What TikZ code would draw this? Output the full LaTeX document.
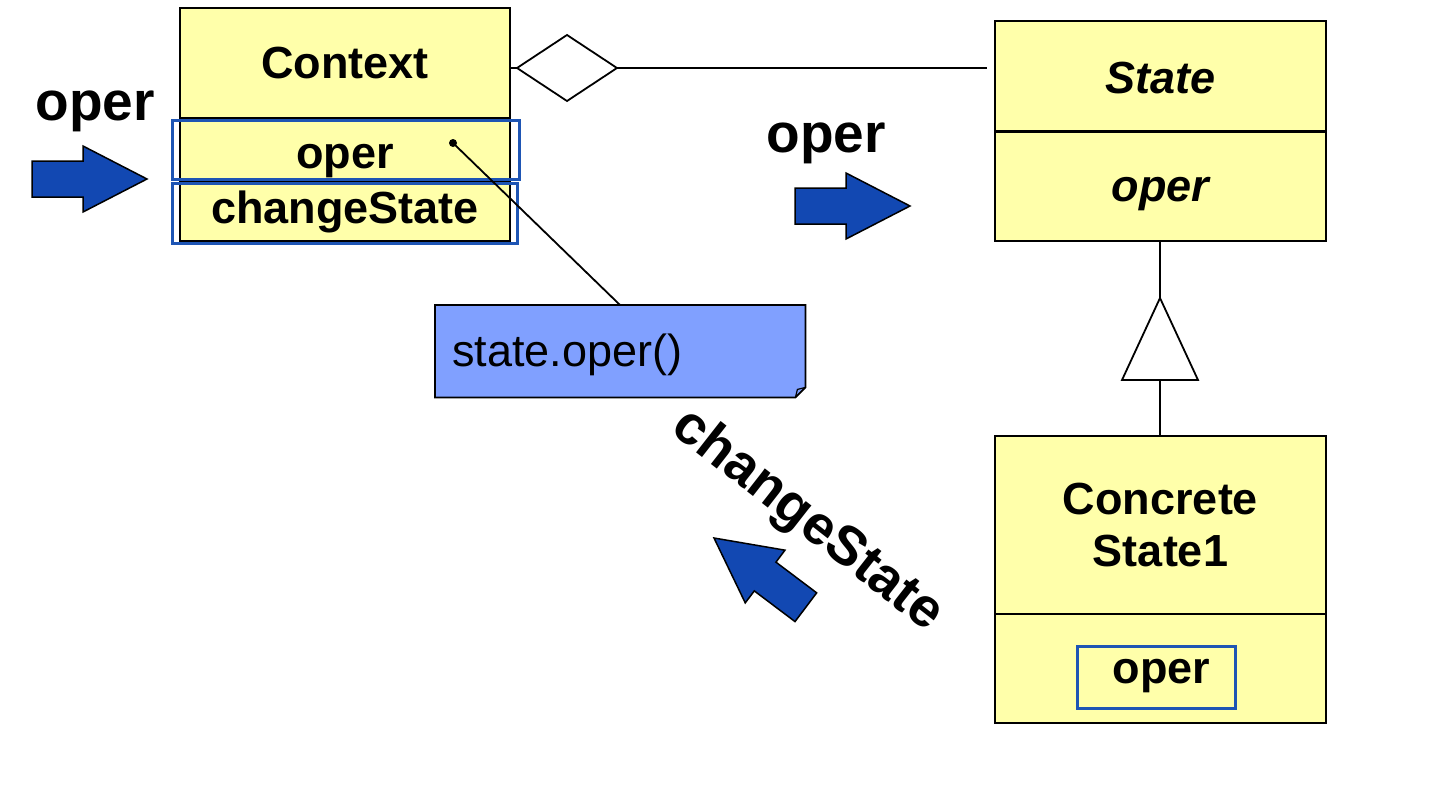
\documentclass[tikz,border=0pt]{standalone}
\usepackage{fontspec}
\setmainfont{Liberation Sans}
\definecolor{clsyellow}{RGB}{255,255,170}
\definecolor{selblue}{RGB}{30,85,180}
\definecolor{arrblue}{RGB}{18,72,178}
\definecolor{noteblue}{RGB}{128,160,255}
\begin{document}
\begin{tikzpicture}[x=1pt,y=-1pt,
  cls/.style={draw=black, fill=clsyellow, line width=2pt, inner sep=0pt, anchor=north west, font=\fontsize{45}{52}\selectfont\bfseries},
  clsit/.style={cls, font=\fontsize{45}{52}\selectfont\bfseries\itshape},
  selbox/.style={draw=selblue, line width=2.5pt, inner sep=0pt, anchor=north west},
  lbl/.style={font=\fontsize{55}{60}\selectfont\bfseries, inner sep=0pt},
  conn/.style={draw=black, line width=1.8pt},
  barrow/.pic={\filldraw[fill=arrblue, draw=black, line width=1.5pt, line join=miter]
     (0,0) -- (-64,-33) -- (-64,-18) -- (-115,-18) -- (-115,18) -- (-64,18) -- (-64,33) -- cycle;}
]
\useasboundingbox (0,0) rectangle (1440,808);
% Context class
\node[cls, minimum width=330pt, minimum height=110pt] (ctx) at (179,7) {Context};
\node[cls, minimum width=330pt, minimum height=63pt, text height=37pt, text depth=0pt] (ctxop) at (179,117) {oper};
\node[cls, minimum width=330pt, minimum height=60pt, text height=24pt, text depth=0pt] (ctxcs) at (179,180) {changeState};
\node[selbox, minimum width=347pt, minimum height=59pt] (selop) at (171,119) {};
\node[selbox, minimum width=345pt, minimum height=60pt] (selcs) at (171,182) {};
% State class
\node[clsit, minimum width=331pt, minimum height=110pt, text height=34pt, text depth=0pt] (st) at (994,20) {State};
\node[clsit, minimum width=331pt, minimum height=109pt, text height=29pt, text depth=0pt] (stop) at (994,131) {oper};
% ConcreteState1
\node[cls, minimum width=331pt, minimum height=178pt, align=center] (conc) at (994,435) {Concrete\\State1};
\node[cls, minimum width=331pt, minimum height=109pt] (concop) at (994,613) {};
\node[selbox, minimum width=158pt, minimum height=62pt, text height=13pt, text depth=0pt, font=\fontsize{45}{52}\selectfont\bfseries] (concsel) at (1076,645) {\hspace*{10pt}oper};
% aggregation diamond
\coordinate (dW) at (517,68);
\coordinate (dE) at (617,68);
\coordinate (dN) at (567,35);
\coordinate (dS) at (567,101);
\coordinate (stEnd) at (987,68);
\draw[conn] (dW) -- (dN) -- (dE) -- (dS) -- cycle;
\draw[conn] (ctx.east |- dW) -- (dW);
\draw[conn] (dE) -- (stEnd);
% generalization
\coordinate (tA) at (1160,298);
\coordinate (tL) at (1122,380);
\coordinate (tR) at (1198,380);
\coordinate (tB) at (1160,380);
\draw[conn, line join=miter] (tA) -- (tL) -- (tR) -- cycle;
\draw[conn] (stop.south -| tA) -- (tA);
\draw[conn] (tB) -- (conc.north -| tB);
% note
\node[inner sep=0pt, minimum width=370pt, minimum height=92pt, anchor=north west] (note) at (435,305) {};
\filldraw[fill=noteblue, draw=black, line width=1.8pt]
  (note.north west) -- (note.north east) -- ([yshift=10pt]note.south east) -- ([xshift=-10pt]note.south east) -- (note.south west) -- cycle;
\draw[line width=1.2pt] ([yshift=10pt]note.south east) -- ([xshift=-8pt,yshift=8pt]note.south east) -- ([xshift=-10pt]note.south east);
\node[anchor=base west, inner sep=0pt, font=\fontsize{45}{52}\selectfont] (notetxt) at (452,366) {state.oper()};
\coordinate (dot) at (453,143);
\coordinate (notetop) at (620,305);
\fill (dot) circle (4pt);
\draw[line width=1.8pt] (notetop) -- (dot);
% labels and arrows
\node[lbl, anchor=base] (operL) at (95,120) {oper};
\node[lbl, anchor=base] (operM) at (826,152) {oper};
\node[lbl, rotate=-38] (csL) at (807,521) {changeState};
\pic at (147,179) {barrow};
\pic at (910,206) {barrow};
\pic[rotate=143] at (714,538) {barrow};
\end{tikzpicture}
\end{document}
